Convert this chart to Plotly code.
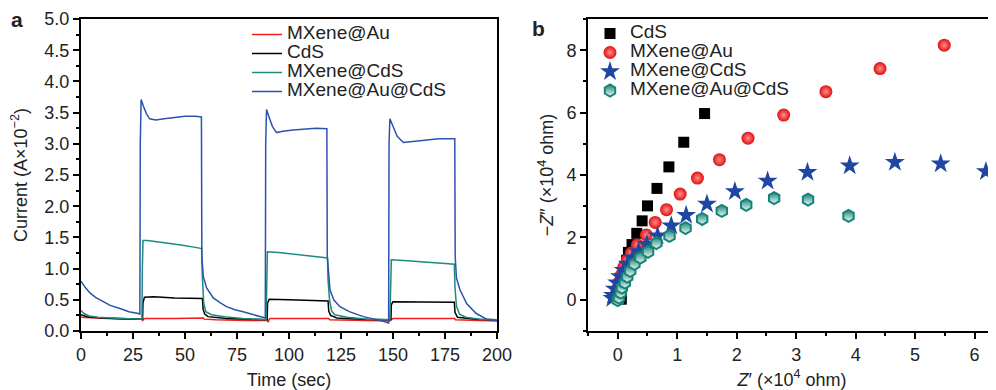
import plotly.graph_objects as go

# ---------------- Panel a: photocurrent (time s, current A x1e-2) ----------------
au_pts = [(0, 0.22), (10, 0.20), (20, 0.19), (29.3, 0.19), (29.6, 0.16), (30, 0.19), (31, 0.20), (45, 0.20),
          (58.8, 0.21), (59.2, 0.19), (65, 0.18), (80, 0.17), (89.8, 0.17), (90, 0.14), (90.4, 0.18), (91, 0.20),
          (105, 0.20), (119, 0.20), (119.5, 0.18), (130, 0.17), (148.5, 0.16), (149, 0.18), (150, 0.20),
          (165, 0.20), (179.6, 0.20), (180, 0.18), (190, 0.17), (200, 0.16)]
cds_pts = [(0, 0.26), (3, 0.23), (10, 0.21), (20, 0.20), (29.6, 0.19), (29.8, 0.45), (30.5, 0.54), (35, 0.55),
           (45, 0.53), (58.4, 0.52), (58.7, 0.35), (59.5, 0.27), (61, 0.23), (70, 0.20), (89.5, 0.18),
           (89.7, 0.45), (90.5, 0.51), (100, 0.50), (110, 0.49), (118.8, 0.48), (119.1, 0.32), (120, 0.25),
           (123, 0.21), (135, 0.19), (149, 0.18), (149.2, 0.42), (150, 0.47), (165, 0.46), (179.5, 0.46),
           (179.8, 0.30), (181, 0.22), (190, 0.19), (200, 0.18)]
mxcds_pts = [(0, 0.33), (1.5, 0.28), (4, 0.24), (8, 0.22), (15, 0.21), (22, 0.20), (29.3, 0.19), (29.5, 1.0),
             (29.8, 1.45), (32, 1.45), (40, 1.42), (48, 1.38), (55, 1.34), (58.0, 1.32), (58.3, 0.9), (59, 0.45),
             (60, 0.31), (62.7, 0.26), (69, 0.23), (78, 0.20), (89, 0.18), (89.3, 1.0), (89.6, 1.27), (95, 1.26),
             (105, 1.22), (113, 1.20), (118.5, 1.17), (118.8, 0.8), (119.5, 0.5), (120.5, 0.32), (122, 0.26),
             (128, 0.22), (138, 0.19), (148.5, 0.18), (148.8, 0.9), (149.2, 1.14), (155, 1.13), (165, 1.10),
             (175, 1.08), (179.5, 1.07), (179.8, 0.7), (180.5, 0.4), (182, 0.27), (185, 0.22), (192, 0.19),
             (200, 0.18)]
mxaucds_pts = [(0, 0.80), (2, 0.70), (4.3, 0.61), (7, 0.54), (10.7, 0.47), (14, 0.41), (18.75, 0.36), (23, 0.31),
               (27.6, 0.28), (28.3, 0.27), (28.5, 3.0), (28.9, 3.71), (30, 3.60), (31.5, 3.48), (33, 3.40),
               (36, 3.38), (40, 3.40), (45, 3.42), (50, 3.44), (55, 3.44), (57.9, 3.43), (58.1, 1.2), (58.8, 0.87),
               (60.4, 0.69), (63.6, 0.53), (67, 0.45), (70, 0.39), (74, 0.34), (78, 0.31), (83, 0.26), (87.6, 0.22),
               (88.6, 0.21), (88.8, 3.0), (89.2, 3.55), (90.5, 3.42), (92, 3.28), (94, 3.18), (97, 3.20),
               (102, 3.22), (108, 3.23), (113, 3.25), (118.2, 3.24), (118.4, 1.2), (119.7, 0.66), (121.5, 0.50),
               (124.5, 0.39), (129, 0.31), (135.7, 0.23), (140, 0.20), (143.8, 0.17), (147.6, 0.13), (147.9, 0.12),
               (148.1, 3.0), (148.5, 3.40), (150, 3.28), (152, 3.12), (155, 3.02), (160, 3.04), (166, 3.06),
               (172, 3.08), (179.7, 3.08), (179.9, 1.2), (180.5, 0.85), (182.2, 0.66), (185.4, 0.44), (190, 0.28),
               (195, 0.19), (200, 0.17)]

# ---------------- Panel b: Nyquist plot (Z', -Z'' in 1e4 ohm) ----------------
cds_z = [(0.06, 0.02), (0.06, 0.23), (0.07, 0.50), (0.09, 0.77), (0.12, 1.04), (0.15, 1.27), (0.18, 1.52),
         (0.24, 1.77), (0.32, 2.13), (0.41, 2.53), (0.50, 3.01), (0.66, 3.57), (0.86, 4.26), (1.11, 5.05),
         (1.46, 5.97)]
au_z = [(-0.02, 0.07), (-0.01, 0.29), (0.02, 0.55), (0.06, 0.79), (0.10, 1.04), (0.16, 1.27), (0.23, 1.50),
        (0.33, 1.76), (0.48, 2.08), (0.63, 2.48), (0.82, 2.89), (1.05, 3.39), (1.34, 3.90), (1.71, 4.49),
        (2.19, 5.18), (2.79, 5.92), (3.50, 6.67), (4.41, 7.41), (5.49, 8.16)]
mxcds_z = [(-0.09, 0.05), (-0.08, 0.15), (-0.05, 0.35), (-0.01, 0.55), (0.04, 0.75), (0.10, 0.95),
           (0.17, 1.15), (0.25, 1.35), (0.35, 1.55), (0.49, 1.78), (0.67, 2.05), (0.90, 2.37), (1.15, 2.71),
           (1.50, 3.07), (1.97, 3.47), (2.52, 3.81), (3.19, 4.09), (3.90, 4.30), (4.66, 4.41), (5.43, 4.36),
           (6.19, 4.11)]
mxaucds_z = [(0.00, -0.01), (0.02, 0.07), (0.05, 0.23), (0.07, 0.39), (0.12, 0.55), (0.16, 0.74),
             (0.21, 0.93), (0.28, 1.15), (0.38, 1.35), (0.51, 1.54), (0.65, 1.82), (0.87, 2.05), (1.14, 2.30),
             (1.42, 2.59), (1.75, 2.85), (2.16, 3.04), (2.63, 3.26), (3.20, 3.21), (3.88, 2.69)]

time_ticks = [0, 25, 50, 75, 100, 125, 150, 175, 200]
cur_ticks = [0.0, 0.5, 1.0, 1.5, 2.0, 2.5, 3.0, 3.5, 4.0, 4.5, 5.0]
zr_ticks = [0, 1, 2, 3, 4, 5, 6]
zi_ticks = [0, 2, 4, 6, 8]

FONT = "Liberation Sans, Arial, sans-serif"
TXT = "#222222"
RED = "#f01e1e"
BLACK = "#000000"
TEAL = "#1c8c7c"
HEXTEAL = "#158476"
BLUE = "#2c52b0"
STARBLUE = "#2046a4"
SPHERE = "#e01010"

# The page body has an 8 px margin, so the figure is drawn from (8, 8) of the window.
OFF = 8
W, H = 996 - OFF, 390 - OFF
PLOT_TOP, PLOT_BOT = 19, 331            # window pixels of the plot area
MT, MB = PLOT_TOP - OFF, H - (PLOT_BOT - OFF)
PH = H - MT - MB


def unzip(pts):
    return [p[0] for p in pts], [p[1] for p in pts]


def px_x(px):
    return (px - OFF) / W


def px_y(py):
    return (PLOT_BOT - py) / PH


def lname(s):
    return '<span style="font-size:19px">' + s + '</span>'


fig = go.Figure()

for name, pts, col in [("MXene@Au", au_pts, RED), ("CdS", cds_pts, BLACK),
                       ("MXene@CdS", mxcds_pts, TEAL), ("MXene@Au@CdS", mxaucds_pts, BLUE)]:
    x, y = unzip(pts)
    fig.add_trace(go.Scatter(x=x, y=y, mode="lines", name=lname(name), line=dict(color=col, width=1.5),
                             xaxis="x", yaxis="y", legend="legend"))

x, y = unzip(cds_z)
fig.add_trace(go.Scatter(x=x, y=y, mode="markers", name=lname("CdS"), xaxis="x2", yaxis="y2", legend="legend2",
                         marker=dict(symbol="square", size=11, color=BLACK, line=dict(width=0))))
x, y = unzip(au_z)
fig.add_trace(go.Scatter(x=x, y=y, mode="markers", name=lname("MXene@Au"), xaxis="x2", yaxis="y2",
                         legend="legend2",
                         marker=dict(symbol="circle", size=13, color=SPHERE,
                                     gradient=dict(type="radial", color="#ff8c8c"), line=dict(width=0))))
x, y = unzip(mxcds_z)
fig.add_trace(go.Scatter(x=x, y=y, mode="markers", name=lname("MXene@CdS"), xaxis="x2", yaxis="y2",
                         legend="legend2",
                         marker=dict(symbol="star", size=15, color=STARBLUE, line=dict(width=0))))
x, y = unzip(mxaucds_z)
fig.add_trace(go.Scatter(x=x, y=y, mode="markers", name=lname("MXene@Au@CdS"), xaxis="x2", yaxis="y2",
                         legend="legend2",
                         marker=dict(symbol="hexagon", size=12, color=HEXTEAL,
                                     gradient=dict(type="vertical", color="#f4fbf9"),
                                     line=dict(width=2, color=HEXTEAL))))

axis_common = dict(showline=True, linewidth=2, linecolor="black", ticks="outside", ticklen=6, tickwidth=1.5,
                   tickcolor="black", showgrid=False, zeroline=False, automargin=False,
                   tickfont=dict(family=FONT, size=18, color=TXT))
minor_common = dict(ticks="outside", ticklen=3, tickwidth=1.5, tickcolor="black")
title_font = dict(family=FONT, size=18, color=TXT)

fig.update_layout(
    width=W, height=H,
    margin=dict(l=0, r=0, t=MT, b=MB, autoexpand=False),
    paper_bgcolor="white", plot_bgcolor="white",
    font=dict(family=FONT, color=TXT),
    xaxis=dict(domain=[px_x(81), px_x(497)], range=[0, 200], tickvals=time_ticks, mirror=True,
               minor=dict(dtick=12.5, **minor_common),
               title=dict(text="Time (sec)", font=title_font, standoff=12),
               anchor="y", **axis_common),
    yaxis=dict(domain=[0, 1], range=[0, 5], tickvals=cur_ticks, tickformat=".1f", mirror=True,
               minor=dict(dtick=0.25, **minor_common),
               title=dict(text="Current (A×10<sup>−2</sup>)", font=title_font, standoff=14),
               anchor="x", **axis_common),
    xaxis2=dict(domain=[px_x(588), 1.0], range=[-0.5, 6.36], tickvals=zr_ticks, mirror=True,
                minor=dict(dtick=0.5, **minor_common),
                title=dict(text="<i>Z</i>′ (×10<sup>4</sup> ohm)", font=title_font, standoff=12),
                anchor="y2", **axis_common),
    yaxis2=dict(domain=[0, 1], range=[-1, 9], tickvals=zi_ticks, mirror=False,
                minor=dict(dtick=1, **minor_common),
                title=dict(text="−<i>Z</i>″ (×10<sup>4</sup> ohm)", font=title_font, standoff=8),
                anchor="x2", **axis_common),
    legend=dict(x=px_x(247), y=px_y(20), xanchor="left", yanchor="top", bgcolor="rgba(0,0,0,0)",
                font=dict(family=FONT, size=11, color=TXT), tracegroupgap=0, itemwidth=30),
    legend2=dict(x=px_x(590), y=px_y(19), xanchor="left", yanchor="top", bgcolor="rgba(0,0,0,0)",
                 font=dict(family=FONT, size=11, color=TXT), tracegroupgap=0, itemwidth=30),
    annotations=[
        dict(text="<b>a</b>", x=px_x(9), y=px_y(19), xref="paper", yref="paper", showarrow=False,
             xanchor="left", yanchor="middle", font=dict(family=FONT, size=21, color=TXT)),
        dict(text="<b>b</b>", x=px_x(530), y=px_y(28), xref="paper", yref="paper", showarrow=False,
             xanchor="left", yanchor="middle", font=dict(family=FONT, size=21, color=TXT)),
    ],
)

fig.write_html("out.html")
